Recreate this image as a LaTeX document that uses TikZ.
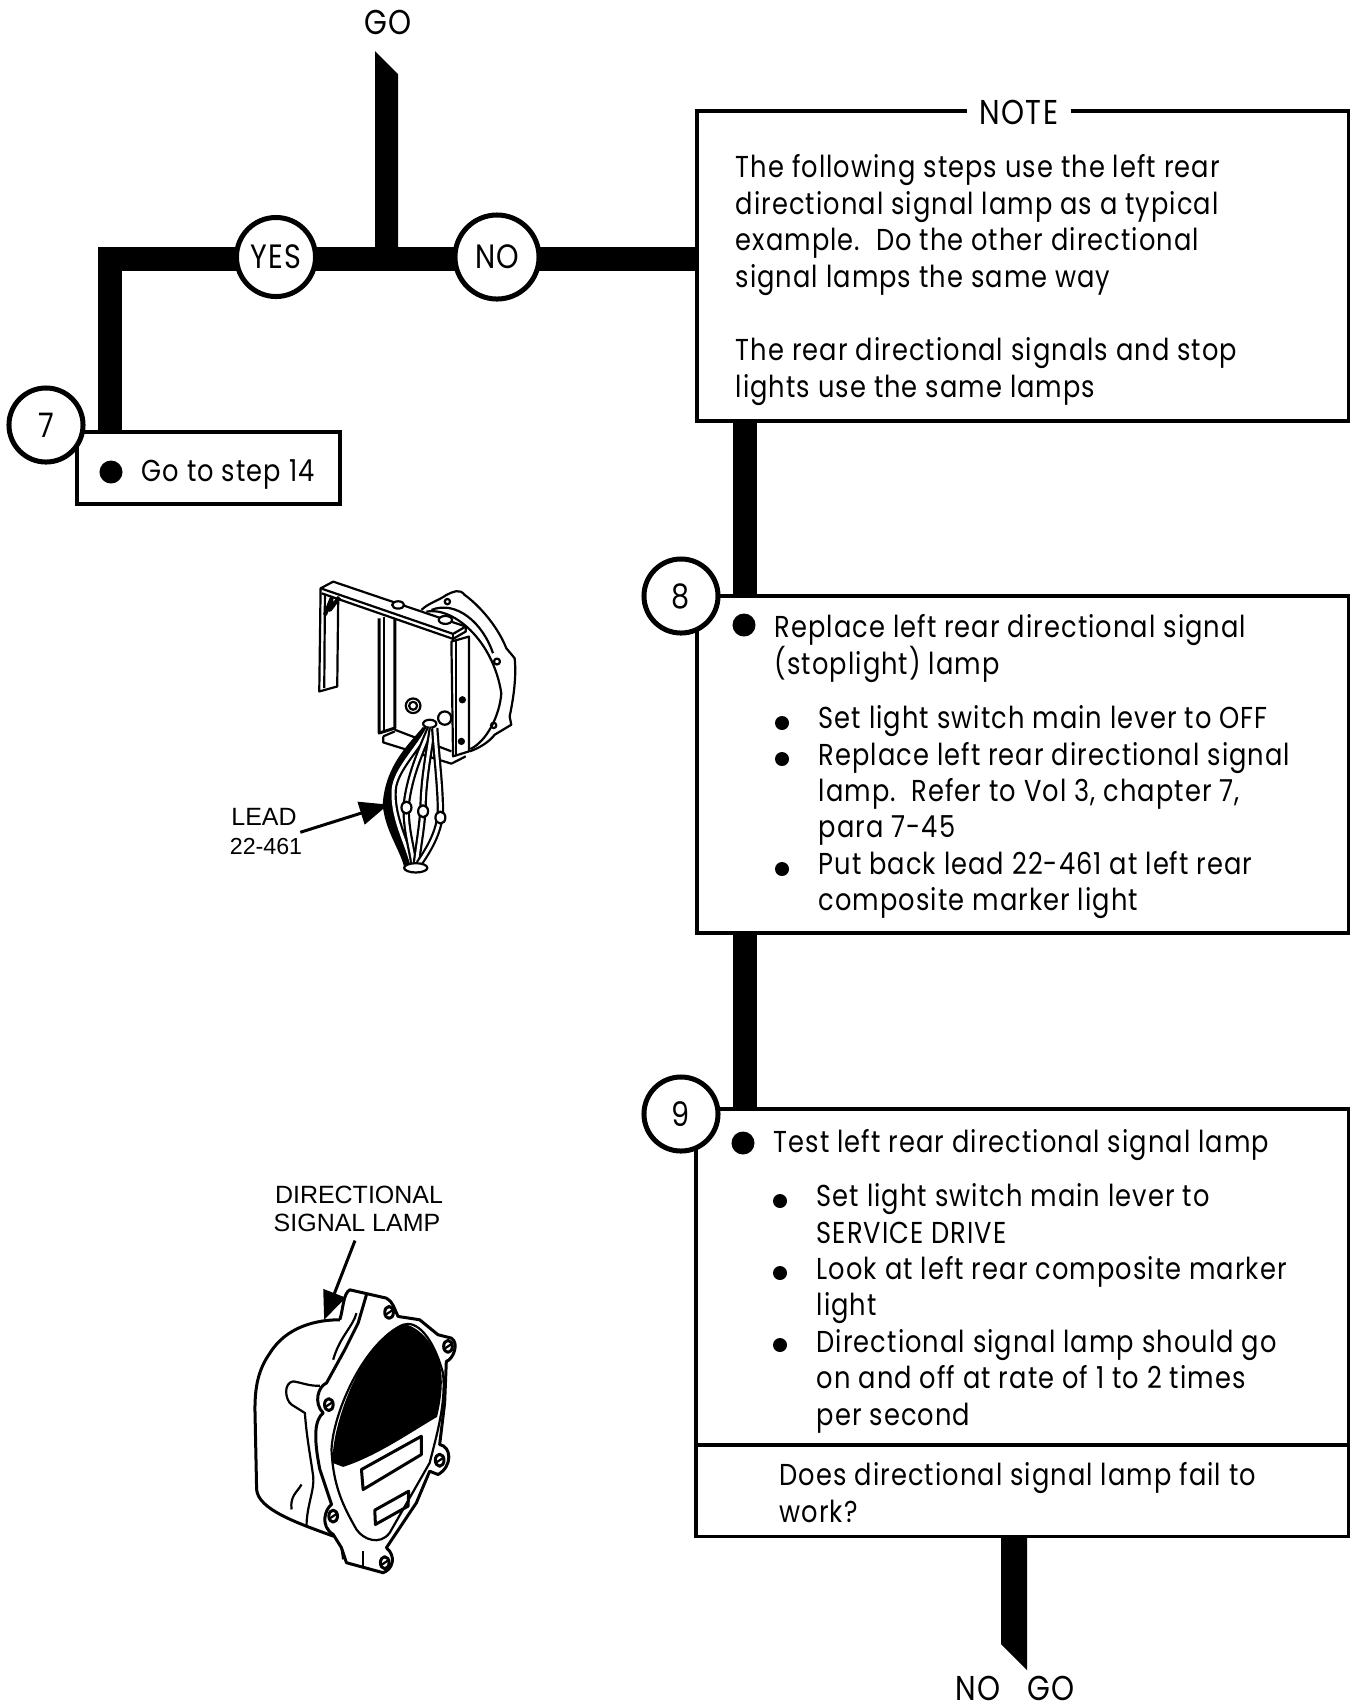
\documentclass[tikz,border=0pt]{standalone}
\usepackage{fontspec}
\setmainfont{Poppins}[FakeStretch=0.85,LetterSpace=3.5]
\newfontfamily\labelfont{Liberation Sans}
\usetikzlibrary{arrows, backgrounds, calc}

\tikzset{
  stepbox/.style={draw, line width=0.035cm, fill=white, inner sep=0pt, outer sep=0pt},
  stepnum/.style={circle, draw, line width=0.05cm, fill=white, inner sep=0pt, minimum size=0.74cm, font=\fontsize{9.6}{10.35}\selectfont},
  answer/.style={circle, draw, line width=0.05cm, fill=white, inner sep=0pt, minimum size=0.79cm, font=\fontsize{9.6}{10.35}\selectfont},
  flowbar/.style={line width=0.24cm},
  bigdot/.style={circle, fill=black, inner sep=0pt, minimum size=0.23cm},
  smalldot/.style={circle, fill=black, inner sep=0pt, minimum size=0.14cm},
  bodytext/.style={anchor=north west, inner sep=0pt, align=left, font=\fontsize{8.6}{10.35}\selectfont},
  flowtext/.style={inner sep=0pt, font=\fontsize{9.8}{10.35}\selectfont},
  parttext/.style={inner sep=0pt, font=\labelfont\fontsize{7.1}{8}\selectfont},
  part/.style={line width=0.22mm, line join=round},
  leader/.style={line width=0.3mm, ->, >= triangle 45}
}

\begin{document}
\begin{tikzpicture}[x=0.01cm,y=-0.01cm]
\useasboundingbox (0,0) rectangle (1356,1705);
%%%%%%%%%%%%%%%%%%%
% The boxes

\node [stepbox, anchor=north west, minimum width=6.51cm, minimum height=3.10cm] (noteb) at (697,111) {};
\node [stepbox, anchor=north west, minimum width=2.63cm, minimum height=0.72cm] (box7) at (77,432) {};
\node [stepbox, anchor=north west, minimum width=6.51cm, minimum height=3.37cm] (box8) at (697,596) {};
\node [stepbox, anchor=north west, minimum width=6.52cm, minimum height=4.27cm] (box9) at (696,1109) {};
\draw [line width=0.035cm] (box9.west |- 0,1445) -- (box9.east |- 0,1445);

\node [answer] (yesn) at (276,257) {YES};
\node [answer, minimum size=0.84cm] (non) at (497,257) {NO};
\node [stepnum] (num7) at (46,425) {7};
\node [stepnum] (num8) at (681,596) {8};
\node [stepnum] (num9) at (681,1114) {9};

%%%%%%%%%%%%%%%%%%%
% Flow lines

\coordinate (barl) at (0,259);
\coordinate (turn7) at (110,259);
\coordinate (drop7) at (110,432);
\coordinate (drop8) at (745,596);
\coordinate (drop9) at (745,1109);
\coordinate (goroot) at (386.5,259);
\coordinate (nogoroot) at (1014,1536);

\begin{pgfonlayer}{background}
\draw [flowbar] (noteb.west |- barl) -- (non.center |- barl);
\draw [flowbar] (non.center |- barl) -- (yesn.center |- barl);
\draw [flowbar] (yesn.center |- barl) -- (turn7) -- (drop7);
\draw [flowbar] (noteb.south -| drop8) -- (drop8);
\draw [flowbar] (box8.south -| drop9) -- (drop9);
\fill ($(goroot)+(-11.5,0)$) -- (375,51) -- (398,74) -- ($(goroot)+(11.5,0)$) -- cycle;
\fill ($(nogoroot)+(-13,0)$) -- (1001,1644) -- (1027,1670) -- ($(nogoroot)+(13,0)$) -- cycle;
\end{pgfonlayer}

%%%%%%%%%%%%%%%%%%%
% Texts

\node [flowtext] (gon) at (388,22) {GO};
\node [flowtext] (nogon) at (1015,1688) {NO\ \ \ GO};

\node [flowtext, fill=white, inner xsep=0.13cm, inner ysep=0.05cm] (noten) at (1019,112) {NOTE};
\node [bodytext] (notea) at (735,154) {The following steps use the left rear\\directional signal lamp as a typical\\example.\ \ Do the other directional\\signal lamps the same way};
\node [bodytext] (noteb2) at (735,337) {The rear directional signals and stop\\lights use the same lamps};

\node [bigdot] (dot7) at (111,472) {};
\node [bodytext] (text7) at (141,459) {Go to step 14};

\node [bigdot] (dot8) at (744,625) {};
\node [bodytext] (text8) at (774,614) {Replace left rear directional signal\\[-0.33mm](stoplight) lamp};
\node [smalldot] (dot8a) at (782,723) {};
\node [smalldot] (dot8b) at (782,759) {};
\node [smalldot] (dot8c) at (782,869) {};
\node [bodytext] (text8a) at (818,705) {Set light switch main lever to OFF\\Replace left rear directional signal\\lamp.\ \ Refer to Vol 3, chapter 7,\\para 7-45\\Put back lead 22-461 at left rear\\composite marker light};

\node [bigdot] (dot9) at (743,1143) {};
\node [bodytext] (text9) at (773,1129) {Test left rear directional signal lamp};
\node [smalldot] (dot9a) at (780,1201) {};
\node [smalldot] (dot9b) at (780,1273) {};
\node [smalldot] (dot9c) at (780,1345) {};
\node [bodytext] (text9a) at (816,1183) {Set light switch main lever to\\SERVICE DRIVE\\Look at left rear composite marker\\light\\Directional signal lamp should go\\on and off at rate of 1 to 2 times\\per second};
\node [bodytext] (text9b) at (779,1462) {Does directional signal lamp fail to\\work?};

\node [parttext] (leadn) at (264,817) {LEAD};
\node [parttext, font=\labelfont\fontsize{6.6}{8}\selectfont] (leadno) at (266,846) {22-461};
\node [parttext] (lampa) at (359,1195) {DIRECTIONAL};
\node [parttext] (lampb) at (357,1223) {SIGNAL LAMP};

%%%%%%%%%%%%%%%%%%%
% Bracket with the leads

\begin{scope}[shift={(280,560)},x=0.00333cm,y=-0.00333cm]
\draw [part, fill=white] (122,85) -- (160,65) -- (558,200) -- (520,222) -- cycle;
\draw [part] (125,100) -- (520,237) -- (558,215) -- (558,200);
\draw [part] (520,222) -- (520,237);
\draw [part] (122,85) -- (118,395) -- (172,380) -- (175,110);
\draw [part] (135,105) -- (133,385);
\draw [part, line width=0.4mm] (135,165) -- (155,115) -- (150,150) -- (178,112);
\draw [part, line width=0.3mm] (298,175) -- (298,520) -- (345,505) -- (345,175);
\draw [part] (312,170) -- (312,510);
\draw [part] (345,510) -- (515,575);
\draw [part] (310,530) -- (345,515);
\draw [part] (310,530) -- (310,548) -- (515,612) -- (558,590);
\draw [part, fill=white] (515,245) -- (568,230) -- (568,575) -- (520,590) -- cycle;
\draw [part] (530,240) -- (530,585);
\draw [part] (425,150) .. controls (445,130) and (480,120) .. (500,105) .. controls (520,95) and (540,85) .. (555,105) .. controls (590,130) and (650,190) .. (680,265) -- (705,295) .. controls (710,340) and (705,400) .. (690,470) -- (695,495) -- (645,525) .. controls (630,545) and (600,565) .. (570,575);
\draw [part] (440,155) .. controls (520,140) and (640,240) .. (665,400) .. controls (660,470) and (620,545) .. (572,568);
\draw [part] (455,150) .. controls (530,120) and (610,190) .. (640,280);
\draw [part] (503,125) circle (8);
\draw [part] (652,305) circle (9);
\draw [part] (642,497) circle (8);
\fill (548,420) circle (11);
\fill (545,545) circle (11);
\draw [part, fill=white] (400,438) circle (22);
\draw [part] (400,438) circle (12);
\draw [part, fill=white] (495,475) circle (20);
\draw [part, fill=white] (355,135) ellipse (18 and 11);
\draw [part, fill=white] (497,180) ellipse (20 and 12);
% leads
\draw [line width=0.9mm] (440,510) .. controls (400,560) and (330,620) .. (322,735) .. controls (330,810) and (370,860) .. (385,915);
\draw [part, fill=white] (450,492) ellipse (20 and 12);
\draw [part, double, double distance=0.3mm] (445,505) .. controls (410,570) and (345,630) .. (340,690) .. controls (335,770) and (375,840) .. (395,912);
\draw [part, double, double distance=0.3mm] (452,505) .. controls (420,580) and (390,650) .. (380,730) .. controls (375,800) and (395,860) .. (402,912);
\draw [part, double, double distance=0.3mm] (458,505) .. controls (445,590) and (432,660) .. (430,735) .. controls (428,800) and (415,860) .. (410,912);
\draw [part, double, double distance=0.3mm] (465,505) .. controls (470,590) and (482,680) .. (482,755) .. controls (480,820) and (440,880) .. (418,912);
\draw [part, fill=white] (380,744) ellipse (15 and 18);
\draw [part, fill=white] (430,755) ellipse (15 and 18);
\draw [part, fill=white] (482,774) ellipse (15 and 18);
\draw [part, fill=white] (408,925) ellipse (35 and 14);
\coordinate (leadtip) at (325,735);
\end{scope}
\draw [leader] (leadn.south east) ++(3,6) -- (leadtip);

%%%%%%%%%%%%%%%%%%%
% Lamp

\begin{scope}[shift={(230,1170)},x=0.00333cm,y=-0.00333cm]
\draw [part, line width=0.3mm] (330,450) .. controls (260,450) and (170,470) .. (120,550) .. controls (85,600) and (75,650) .. (75,720) -- (80,960) .. controls (85,1020) and (200,1060) .. (310,1100);
\draw [part, line width=0.3mm] (330,450) .. controls (340,420) and (340,370) .. (360,360) -- (470,385) .. controls (490,395) and (495,420) .. (505,440) -- (570,450) -- (625,495) -- (665,505) .. controls (690,520) and (670,570) .. (650,575) -- (645,700) -- (630,825) .. controls (665,830) and (670,890) .. (625,915) -- (600,905) -- (560,1000) -- (470,1135) .. controls (500,1160) and (490,1200) .. (460,1210) -- (350,1180) -- (335,1135) -- (310,1095) .. controls (270,1070) and (285,1020) .. (305,1005) -- (270,900) .. controls (250,800) and (255,750) .. (280,730) .. controls (250,700) and (265,650) .. (290,640) -- (345,540) -- (385,460) -- (410,375);
\draw [part] (380,430) .. controls (370,470) and (330,500) .. (310,570);
\draw [part] (270,648) .. controls (240,650) and (220,640) .. (190,635) .. controls (160,640) and (165,690) .. (185,705) -- (225,730) .. controls (230,800) and (240,850) .. (250,920) .. controls (255,960) and (230,1010) .. (230,1070);
\draw [part] (215,945) .. controls (200,970) and (180,980) .. (185,1020);
\draw [part] (520,465) .. controls (560,450) and (610,500) .. (640,610) .. controls (650,700) and (620,800) .. (600,880) -- (480,1090) .. controls (450,1130) and (400,1110) .. (380,1080) .. controls (340,1010) and (310,950) .. (305,840) .. controls (310,730) and (400,520) .. (520,465);
\fill (520,462) .. controls (570,470) and (625,530) .. (635,610) .. controls (640,660) and (630,710) .. (622,742) .. controls (540,790) and (440,860) .. (340,892) -- (308,880) .. controls (305,760) and (400,510) .. (520,462);
\draw [part, line width=0.3mm] (395,900) -- (575,800) -- (575,855) -- (400,960) -- cycle;
\draw [part, line width=0.3mm] (435,1022) -- (537,965) -- (535,1010) -- (437,1065) -- cycle;
\draw [part] (335,1135) -- (340,1170);
\draw [part] (400,1145) -- (400,1195);
\foreach \sx/\sy in {478/428, 655/530, 297/705, 630/872, 310/1040, 465/1180} {
  \draw [part, line width=0.3mm] (\sx,\sy) ellipse (13 and 18);
  \draw [part] (\sx-12,\sy+8) -- (\sx+12,\sy-8);
}
\coordinate (lamptip) at (283,450);
\end{scope}
\draw [leader] (lampb.south) ++(-2,8) -- (lamptip);

\end{tikzpicture}
\end{document}
